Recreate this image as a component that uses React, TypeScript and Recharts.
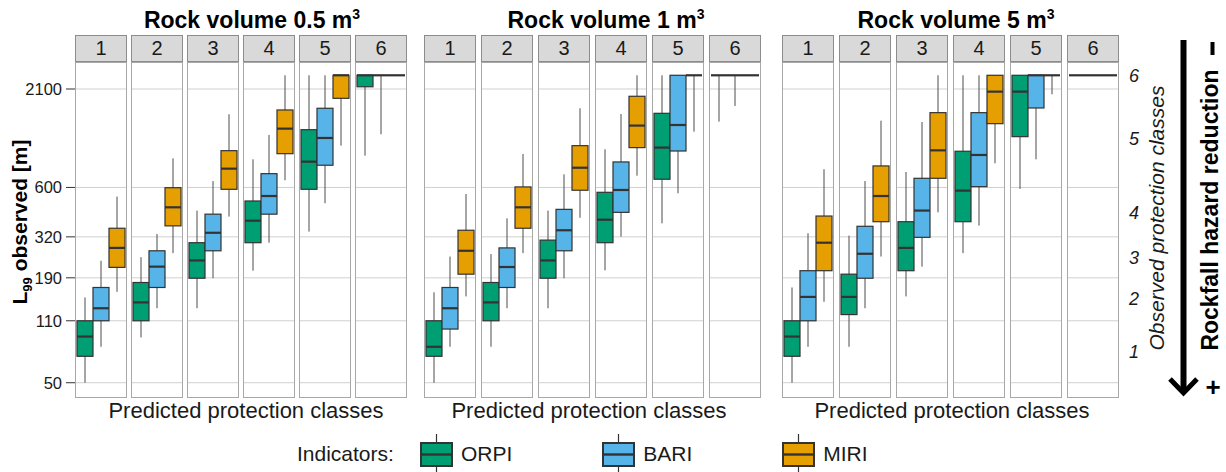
import React from "react";
import { ComposedChart, Bar, XAxis, YAxis, CartesianGrid } from "recharts";

const classes = ["1", "2", "3", "4", "5", "6"];
const indicators = ["ORPI", "BARI", "MIRI"];
const colors = ["#009E73", "#56B4E9", "#E69F00"];
const volumes = ["0.5", "1", "5"];
const yTicks = [50, 110, 190, 320, 600, 2100];
// observed classes sit between the thresholds
const classTicks = [74, 145, 247, 438, 1122, 2500];

// [low whisker, q1, median, q3, high whisker] per predicted class 1..6
const orpi05 = [
  [50, 70, 90, 110, 148],
  [89, 110, 139, 179, 247],
  [129, 189, 237, 297, 447],
  [208, 297, 393, 505, 858],
  [342, 586, 833, 1251, 2500],
  [899, 2160, 2500, 2500, 2500],
];
const bari05 = [
  [79, 110, 129, 168, 236],
  [129, 168, 219, 268, 332],
  [189, 268, 337, 427, 651],
  [297, 427, 538, 715, 1170],
  [491, 796, 1126, 1643, 2500],
  [1180, 2500, 2500, 2500, 2500],
];
const miri05 = [
  [159, 217, 278, 357, 534],
  [260, 368, 466, 598, 869],
  [414, 586, 762, 958, 1522],
  [657, 922, 1268, 1608, 2500],
  [1021, 1865, 2500, 2500, 2500],
  [2500, 2500, 2500, 2500, 2500],
];

const orpi1 = [
  [50, 70, 79, 110, 158],
  [79, 110, 139, 179, 257],
  [129, 189, 237, 307, 447],
  [209, 297, 398, 564, 975],
  [380, 666, 996, 1541, 2500],
  [1386, 2500, 2500, 2500, 2500],
];
const bari1 = [
  [79, 99, 129, 168, 249],
  [129, 168, 218, 278, 405],
  [189, 268, 348, 454, 709],
  [321, 437, 581, 830, 1528],
  [557, 954, 1328, 2500, 2500],
  [1692, 2500, 2500, 2500, 2500],
];
const miri1 = [
  [150, 199, 268, 348, 552],
  [260, 357, 466, 604, 919],
  [408, 579, 771, 1021, 1643],
  [697, 996, 1318, 1914, 2500],
  [1220, 2500, 2500, 2500, 2500],
  [2500, 2500, 2500, 2500, 2500],
];

const orpi5 = [
  [50, 70, 90, 110, 168],
  [79, 119, 149, 199, 325],
  [150, 208, 278, 388, 730],
  [260, 388, 576, 951, 2500],
  [589, 1145, 2030, 2500, 2500],
  [2500, 2500, 2500, 2500, 2500],
];
const bari5 = [
  [79, 110, 149, 208, 335],
  [129, 189, 258, 366, 651],
  [219, 318, 447, 674, 1380],
  [369, 606, 907, 1554, 2500],
  [858, 1649, 2500, 2500, 2500],
  [2500, 2500, 2500, 2500, 2500],
];
const miri5 = [
  [140, 208, 297, 417, 756],
  [249, 388, 538, 789, 1403],
  [437, 674, 962, 1554, 2500],
  [816, 1351, 2030, 2500, 2500],
  [1963, 2500, 2500, 2500, 2500],
  [2500, 2500, 2500, 2500, 2500],
];

const panelSets = [
  [orpi05, bari05, miri05],
  [orpi1, bari1, miri1],
  [orpi5, bari5, miri5],
];

// layout
const FONT = '"Liberation Sans", Arial, sans-serif';
const PANEL_LEFT = [75, 424, 782];
const PANEL_STEP = [56, 57, 57];
const TITLE_X = [252, 606, 956];
const XTITLE_X = [246, 589, 952];
const FACET_W = 52;
const STRIP_TOP = 35;
const PLOT_TOP = 62;
const PLOT_H = 336;
const Y_DOMAIN = [41.7, 2923];

const rowFor = (sets: number[][][], c: number) => {
  const row: any = { cls: classes[c] };
  indicators.forEach((name, k) => {
    const [lo, q1, md, q3, hi] = sets[k][c];
    row[name + "_w"] = [lo, hi];
    row[name + "_b"] = [q1, q3];
    row[name + "_m"] = [md, md];
  });
  return [row];
};

const Whisker = (p: any) => (
  <line
    x1={p.x + p.width / 2}
    x2={p.x + p.width / 2}
    y1={p.y}
    y2={p.y + p.height}
    stroke="#4d4d4d"
    strokeWidth={1}
  />
);

const Box = (p: any) =>
  p.height > 0.5 ? (
    <rect x={p.x} y={p.y} width={p.width} height={p.height} fill={p.fill} stroke="#333" strokeWidth={1.2} />
  ) : (
    <g />
  );

const Median = (p: any) => (
  <line x1={p.x} x2={p.x + p.width} y1={p.y} y2={p.y} stroke="#333" strokeWidth={2.2} />
);

const Facet = ({ sets, c, left }: any) => {
  const data = rowFor(sets, c);
  return (
    <>
      <div
        style={{
          position: "absolute",
          left,
          top: STRIP_TOP,
          width: FACET_W,
          height: 27,
          boxSizing: "border-box",
          background: "#d9d9d9",
          border: "1px solid #8c8c8c",
          fontSize: 20,
          lineHeight: "25px",
          textAlign: "center",
        }}
      >
        {classes[c]}
      </div>
      <div
        style={{
          position: "absolute",
          left,
          top: PLOT_TOP,
          width: FACET_W,
          height: PLOT_H,
          boxSizing: "border-box",
          border: "1px solid #a8a8a8",
        }}
      >
        <ComposedChart
          width={FACET_W - 2}
          height={PLOT_H - 2}
          data={data}
          margin={{ top: 0, right: 0, bottom: 0, left: 0 }}
          barCategoryGap={1}
          barGap={0}
        >
          <XAxis xAxisId="w" dataKey="cls" hide />
          <XAxis xAxisId="b" dataKey="cls" hide />
          <XAxis xAxisId="m" dataKey="cls" hide />
          <YAxis hide type="number" scale="log" domain={Y_DOMAIN} allowDataOverflow ticks={yTicks} />
          <CartesianGrid xAxisId="w" vertical={false} horizontalValues={yTicks} stroke="#d0d0d0" />
          {indicators.map((n, k) => (
            <Bar key={n + "w"} xAxisId="w" dataKey={n + "_w"} fill={colors[k]} shape={Whisker} isAnimationActive={false} />
          ))}
          {indicators.map((n, k) => (
            <Bar key={n + "b"} xAxisId="b" dataKey={n + "_b"} fill={colors[k]} shape={Box} isAnimationActive={false} />
          ))}
          {indicators.map((n, k) => (
            <Bar key={n + "m"} xAxisId="m" dataKey={n + "_m"} fill={colors[k]} shape={Median} isAnimationActive={false} />
          ))}
        </ComposedChart>
      </div>
    </>
  );
};

const LegendKey = ({ color }: { color: string }) => (
  <svg width={33} height={40} style={{ display: "block" }}>
    <line x1={16.5} x2={16.5} y1={0} y2={40} stroke="#333" strokeWidth={1.2} />
    <rect x={1} y={9} width={31} height={23} fill={color} stroke="#333" strokeWidth={2} />
    <line x1={1} x2={32} y1={20.5} y2={20.5} stroke="#333" strokeWidth={2.4} />
  </svg>
);

const abs = (x: number, y: number, extra: any = {}) => ({
  position: "absolute" as const,
  left: x,
  top: y,
  transform: "translate(-50%, -50%)",
  whiteSpace: "nowrap" as const,
  ...extra,
});

export default function App() {
  return (
    <div
      style={{
        position: "absolute",
        left: 0,
        top: 0,
        width: 1226,
        height: 472,
        background: "#fff",
        fontFamily: FONT,
        color: "#1a1a1a",
        overflow: "hidden",
      }}
    >
      {volumes.map((v, p) => (
        <div key={"t" + v} style={abs(TITLE_X[p], 20, { fontSize: 23, fontWeight: 700, color: "#000" })}>
          Rock volume {v} m<span style={{ fontSize: 14, position: "relative", top: -9 }}>3</span>
        </div>
      ))}

      {volumes.map((v, p) =>
        classes.map((cl, c) => (
          <Facet key={v + cl} sets={panelSets[p]} c={c} left={PANEL_LEFT[p] + PANEL_STEP[p] * c} />
        ))
      )}

      {volumes.map((v, p) => (
        <div key={"x" + v} style={abs(XTITLE_X[p], 411, { fontSize: 22 })}>
          Predicted protection classes
        </div>
      ))}

      {/* left axis */}
      <div style={{ position: "absolute", left: 0, top: PLOT_TOP + 1 }}>
        <ComposedChart width={80} height={PLOT_H - 2} data={[{ cls: "" }]} margin={{ top: 0, right: 0, bottom: 0, left: 0 }}>
          <XAxis dataKey="cls" hide />
          <YAxis
            type="number"
            scale="log"
            domain={Y_DOMAIN}
            allowDataOverflow
            ticks={yTicks}
            width={75}
            axisLine={false}
            tickSize={9}
            tickMargin={4}
            tickLine={{ stroke: "#333" }}
            tick={{ fontSize: 16.5, fill: "#1a1a1a", fontFamily: FONT }}
          />
        </ComposedChart>
      </div>
      <div style={abs(20, 222, { transform: "translate(-50%, -50%) rotate(-90deg)", fontSize: 21, fontWeight: 700, color: "#000" })}>
        L<span style={{ fontSize: 13, position: "relative", top: 5 }}>99</span> observed [m]
      </div>

      {/* right axis: dotted threshold ticks */}
      <div style={{ position: "absolute", left: 1099, top: PLOT_TOP + 1 }}>
        <ComposedChart width={45} height={PLOT_H - 2} data={[{ cls: "" }]} margin={{ top: 0, right: 0, bottom: 0, left: 0 }}>
          <XAxis dataKey="cls" hide />
          <YAxis
            orientation="right"
            type="number"
            scale="log"
            domain={Y_DOMAIN}
            allowDataOverflow
            ticks={yTicks}
            width={25}
            axisLine={false}
            tick={false}
            tickSize={22}
            tickLine={{ stroke: "#b5b5b5", strokeDasharray: "1 1" }}
          />
        </ComposedChart>
      </div>
      {/* right axis: observed classes */}
      <div style={{ position: "absolute", left: 1105, top: PLOT_TOP + 1 }}>
        <ComposedChart width={45} height={PLOT_H - 2} data={[{ cls: "" }]} margin={{ top: 0, right: 0, bottom: 0, left: 0 }}>
          <XAxis dataKey="cls" hide />
          <YAxis
            orientation="right"
            type="number"
            scale="log"
            domain={Y_DOMAIN}
            allowDataOverflow
            ticks={classTicks}
            tickFormatter={(val: number) => classes[classTicks.indexOf(val)]}
            width={25}
            axisLine={false}
            tickLine={false}
            tickSize={0}
            tickMargin={4}
            tick={{ fontSize: 18, fill: "#1a1a1a", fontStyle: "italic", fontFamily: FONT }}
          />
        </ComposedChart>
      </div>
      <div style={abs(1157, 218, { transform: "translate(-50%, -50%) rotate(-90deg)", fontSize: 21, fontStyle: "italic" })}>
        Observed protection classes
      </div>

      {/* hazard arrow */}
      <svg style={{ position: "absolute", left: 0, top: 0 }} width={1226} height={472}>
        <line x1={1183.5} x2={1183.5} y1={40} y2={391} stroke="#000" strokeWidth={6} />
        <polyline points="1170,379 1183.5,393 1197,379" fill="none" stroke="#000" strokeWidth={5} />
        <line x1={1212.5} x2={1212.5} y1={42} y2={55} stroke="#000" strokeWidth={4} />
      </svg>
      <div style={abs(1210, 210, { transform: "translate(-50%, -50%) rotate(-90deg)", fontSize: 23, fontWeight: 700, color: "#000" })}>
        Rockfall hazard reduction
      </div>
      <div style={abs(1213, 387, { fontSize: 26, fontWeight: 700, color: "#000" })}>+</div>

      {/* legend */}
      <div style={{ position: "absolute", left: 297, top: 434, display: "flex", alignItems: "center", height: 40, fontSize: 21 }}>
        <span style={{ marginRight: 26 }}>Indicators:</span>
        {indicators.map((n, k) => (
          <div key={n} style={{ display: "flex", alignItems: "center", marginRight: 90 }}>
            <LegendKey color={colors[k]} />
            <span style={{ marginLeft: 8 }}>{n}</span>
          </div>
        ))}
      </div>
    </div>
  );
}
